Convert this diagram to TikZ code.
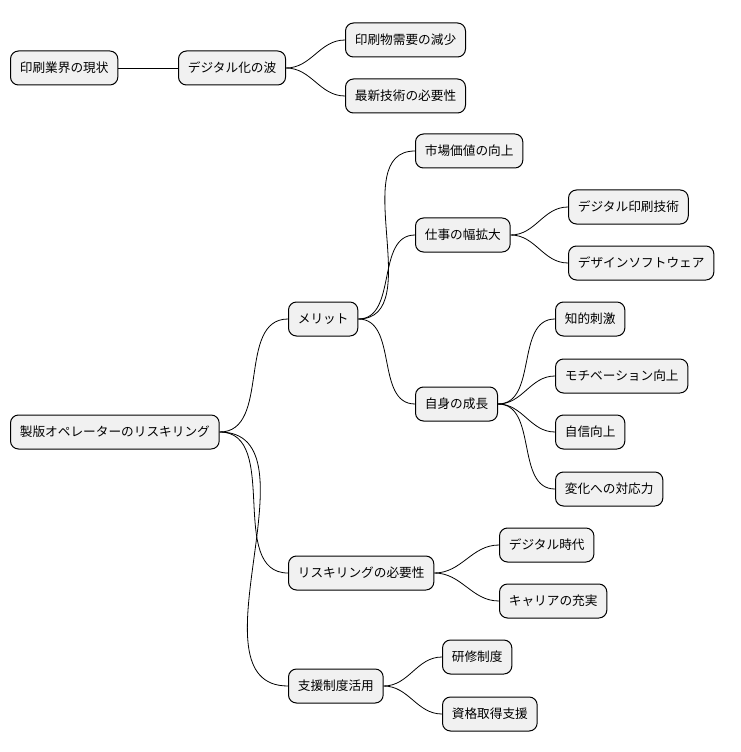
\documentclass[tikz,border=0pt]{standalone}
\usepackage{fontspec}
\setmainfont{Noto Sans CJK JP}
\tikzset{every picture/.style={line width=0.75pt}}
\tikzset{
  topic/.style={draw, fill={rgb,255:red,241;green,241;blue,241}, rounded corners=6pt,
    anchor=west, minimum height=25.5pt, inner xsep=7pt, font=\fontsize{9.5}{11}\selectfont},
  branch/.style={line width=0.6pt}
}
\begin{document}
\begin{tikzpicture}[x=0.75pt,y=0.75pt,yscale=-1,xscale=1]
\useasboundingbox (0,0) rectangle (740,752);

%first map
\node [topic] (genjo) at (10,68) {印刷業界の現状};
\node [topic] (nami) at (178,68) {デジタル化の波};
\node [topic] (gensho) at (345,40) {印刷物需要の減少};
\node [topic] (saishin) at (345,96) {最新技術の必要性};

%second map
\node [topic] (reskill) at (10,432) {製版オペレーターのリスキリング};
\node [topic] (merit) at (288,319) {メリット};
\node [topic] (shijo) at (415,151) {市場価値の向上};
\node [topic] (haba) at (415,235) {仕事の幅拡大};
\node [topic] (insatsu) at (568,207) {デジタル印刷技術};
\node [topic] (soft) at (568,263) {デザインソフトウェア};
\node [topic] (seicho) at (415,404) {自身の成長};
\node [topic] (chiteki) at (555,319) {知的刺激};
\node [topic] (moti) at (555,376) {モチベーション向上};
\node [topic] (jishin) at (555,432) {自信向上};
\node [topic] (taio) at (555,489) {変化への対応力};
\node [topic] (hitsuyo) at (288,573) {リスキリングの必要性};
\node [topic] (jidai) at (499,545) {デジタル時代};
\node [topic] (career) at (499,601) {キャリアの充実};
\node [topic] (shien) at (288,686) {支援制度活用};
\node [topic] (kenshu) at (442,657) {研修制度};
\node [topic] (shikaku) at (442,714) {資格取得支援};

%connectors
\draw [branch] (genjo.east) -- (nami.west);
\foreach \a/\b in {nami/gensho, nami/saishin,
  reskill/merit, reskill/hitsuyo, reskill/shien,
  merit/shijo, merit/haba, merit/seicho,
  haba/insatsu, haba/soft,
  seicho/chiteki, seicho/moti, seicho/jishin, seicho/taio,
  hitsuyo/jidai, hitsuyo/career,
  shien/kenshu, shien/shikaku}
  \draw [branch] (\a.east) to[out=0,in=180] (\b.west);

\end{tikzpicture}
\end{document}
